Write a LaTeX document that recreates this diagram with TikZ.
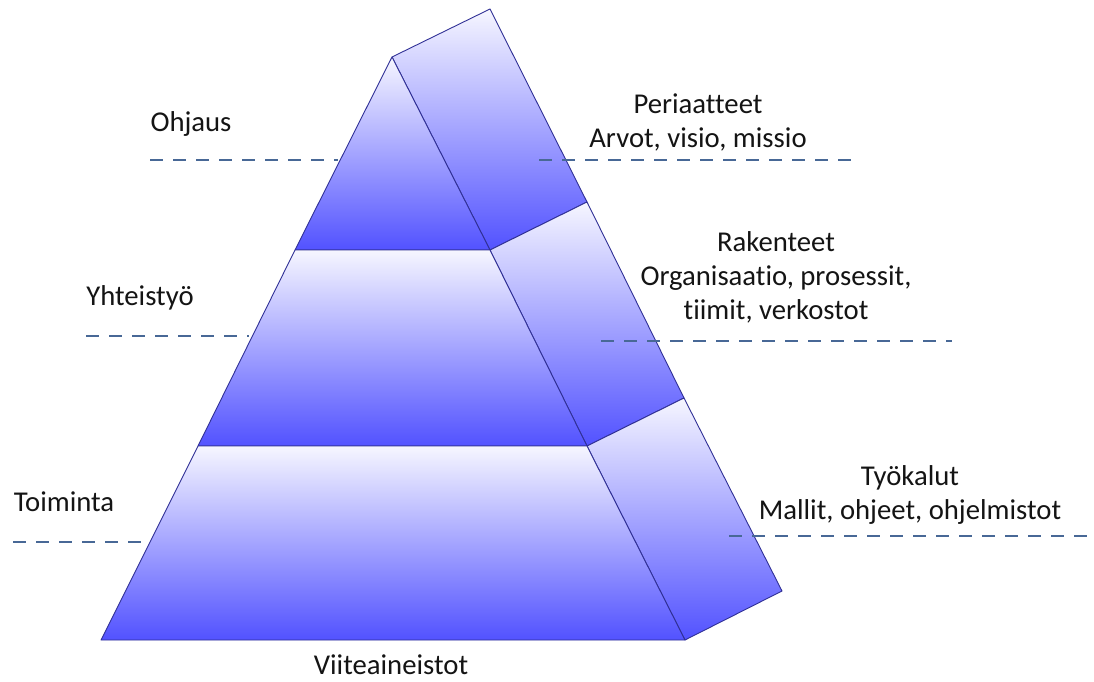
\documentclass[tikz,border=0pt]{standalone}
\usepackage{fontspec}
\setmainfont{Carlito}[Ligatures=NoCommon]
\begin{document}
\begin{tikzpicture}[x=1pt,y=-1pt,
  face/.style={top color=tierTop, bottom color=tierBot, draw=edgeBlue, line width=0.9pt, line join=round},
  guide/.style={draw=guideBlue, line width=1.8pt, dash pattern=on 13pt off 10pt},
  lbl/.style={inner sep=0pt, align=center, text=labelInk, font=\fontsize{28.7}{34}\selectfont}]
\definecolor{tierTop}{RGB}{246,246,255}
\definecolor{tierBot}{RGB}{82,82,255}
\definecolor{edgeBlue}{RGB}{48,48,150}
\definecolor{guideBlue}{RGB}{72,104,150}
\definecolor{labelInk}{RGB}{20,20,20}
\useasboundingbox (0,0) rectangle (1094,682);
\fill[white] (0,0) rectangle (1094,682);

% front face corners
\coordinate (apex) at (392,57);
\coordinate (l1) at (295,250);  \coordinate (r1) at (490,250);
\coordinate (l2) at (198,446);  \coordinate (r2) at (587,446);
\coordinate (l3) at (101,640);  \coordinate (r3) at (685,640);
% back edge of the side face
\coordinate (b0) at (490,9);
\coordinate (b1) at (587,202);
\coordinate (b2) at (684,398);
\coordinate (b3) at (782,591);

% side face, three tiers
\shade[face] (apex) -- (b0) -- (b1) -- (r1) -- cycle;
\shade[face] (r1) -- (b1) -- (b2) -- (r2) -- cycle;
\shade[face] (r2) -- (b2) -- (b3) -- (r3) -- cycle;
% front face, three tiers
\shade[face] (apex) -- (r1) -- (l1) -- cycle;
\shade[face] (l1) -- (r1) -- (r2) -- (l2) -- cycle;
\shade[face] (l2) -- (r2) -- (r3) -- (l3) -- cycle;

% level guides
\coordinate (g1a) at (150,160); \coordinate (g1b) at (338,160);
\coordinate (g2a) at (86,336);  \coordinate (g2b) at (249,336);
\coordinate (g3a) at (13,542);  \coordinate (g3b) at (147,542);
\coordinate (h1a) at (539,160); \coordinate (h1b) at (853,160);
\coordinate (h2a) at (601,341); \coordinate (h2b) at (952,341);
\coordinate (h3a) at (729,536); \coordinate (h3b) at (1094,536);
\draw[guide] (g1a) -- (g1b);
\draw[guide] (g2a) -- (g2b);
\draw[guide] (g3a) -- (g3b);
\draw[guide] (h1a) -- (h1b);
\draw[guide] (h2a) -- (h2b);
\draw[guide] (h3a) -- (h3b);

% labels
\node[lbl] (ohjaus) at (191,124) {Ohjaus};
\node[lbl] (yht) at (140,298) {Yhteistyö};
\node[lbl] (toim) at (64,502) {Toiminta};
\node[lbl] (peri) at (698,122) {Periaatteet\\Arvot, visio, missio};
\node[lbl] (rak) at (776,277) {Rakenteet\\Organisaatio, prosessit,\\tiimit, verkostot};
\node[lbl] (tyo) at (910,495) {Työkalut\\Mallit, ohjeet, ohjelmistot};
\node[lbl] (viite) at (391,665) {Viiteaineistot};
\end{tikzpicture}
\end{document}
